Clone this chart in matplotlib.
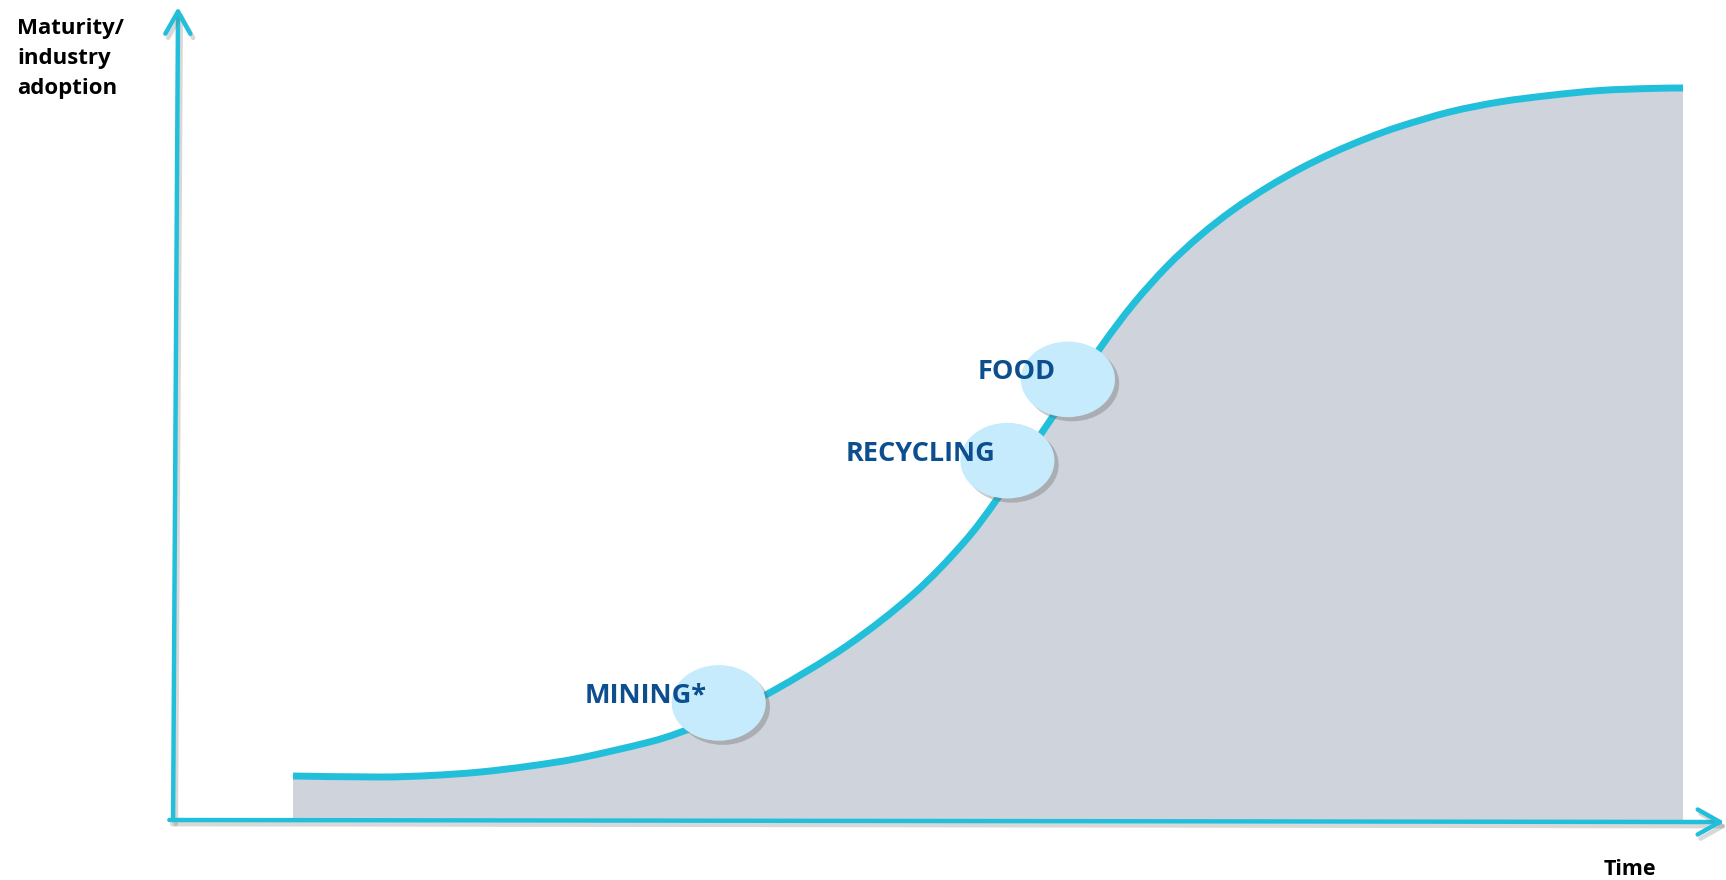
import matplotlib
matplotlib.use("Agg")
import matplotlib.pyplot as plt
import matplotlib.patheffects as pe
from matplotlib.patches import Ellipse, PathPatch
from matplotlib.path import Path

# adoption curve (time / maturity, 0-100 scale)
time = [7.67, 13.27, 16.49, 19.72, 22.94, 26.16, 30.48, 32.60, 35.50, 38.60,
        43.36, 47.62, 50.84, 53.03, 55.99, 59.66, 61.79, 63.98, 66.11, 68.23,
        70.43, 72.55, 74.68, 76.87, 79.00, 82.22, 85.44, 88.66, 91.88, 95.10, 97.23]
adoption = [5.41, 5.29, 5.47, 5.90, 6.64, 7.63, 9.52, 10.77, 12.99, 15.88,
            21.43, 27.76, 34.03, 39.47, 47.85, 58.01, 63.41, 68.09, 71.87, 75.03,
            77.79, 80.10, 82.09, 83.85, 85.31, 87.10, 88.33, 89.13, 89.73, 89.98, 90.04]

# sectors placed on the curve
sectors = ["MINING*", "RECYCLING", "FOOD"]
sector_time = [35.1, 53.7, 57.6]
sector_adoption = [14.4, 44.2, 54.2]

cyan = "#21BFDA"
grey = "#CFD3DB"
bubble = "#C5EBFC"
navy = "#0D4E8F"
font = ["Open Sans", "DejaVu Sans"]


def smooth_path(xs, ys):
    # catmull-rom through the read points, as cubic bezier segments
    pts = list(zip(xs, ys))
    verts = [pts[0]]
    codes = [Path.MOVETO]
    n = len(pts)
    for i in range(n - 1):
        p0 = pts[max(i - 1, 0)]
        p1 = pts[i]
        p2 = pts[i + 1]
        p3 = pts[min(i + 2, n - 1)]
        c1 = (p1[0] + (p2[0] - p0[0]) / 6, p1[1] + (p2[1] - p0[1]) / 6)
        c2 = (p2[0] - (p3[0] - p1[0]) / 6, p2[1] - (p3[1] - p1[1]) / 6)
        verts += [c1, c2, p2]
        codes += [Path.CURVE4] * 3
    return verts, codes


fig = plt.figure(figsize=(17.26, 8.80), dpi=100)
ax = fig.add_axes([174 / 1726, 60 / 880, 1552 / 1726, 813 / 880])
ax.set_xlim(0, 100)
ax.set_ylim(0, 100)
ax.axis("off")

verts, codes = smooth_path(time, adoption)

# shaded area under the curve
fill_verts = verts + [(time[-1], 0), (time[0], 0), verts[0]]
fill_codes = codes + [Path.LINETO, Path.LINETO, Path.CLOSEPOLY]
ax.add_patch(PathPatch(Path(fill_verts, fill_codes), facecolor=grey, lw=0, zorder=1))

# the curve
ax.add_patch(PathPatch(Path(verts, codes), facecolor="none", edgecolor=cyan, lw=5,
                       capstyle="butt", joinstyle="round", zorder=2))

# axes with arrows
shadow = [pe.SimpleLineShadow(offset=(2, -3), shadow_color="grey", alpha=0.3),
          pe.Normal()]
arrow = dict(arrowstyle="->,head_length=0.8,head_width=0.45", mutation_scale=20,
             lw=3.2, color=cyan, shrinkA=0, shrinkB=0, path_effects=shadow,
             capstyle="round")
ax.annotate("", xy=(0.26, 100), xytext=(-0.06, 0), arrowprops=arrow,
            annotation_clip=False, zorder=3)
ax.annotate("", xy=(99.9, -0.25), xytext=(-0.3, 0), arrowprops=arrow,
            annotation_clip=False, zorder=3)

# bubbles and labels
for name, t, a in zip(sectors, sector_time, sector_adoption):
    e = Ellipse((t, a), 6.06, 9.3, facecolor=bubble, edgecolor="none", zorder=4)
    e.set_path_effects([pe.SimplePatchShadow(offset=(3, -3), shadow_rgbFace="#666666",
                                             alpha=0.35), pe.Normal()])
    ax.add_patch(e)
    ax.annotate(name, xy=(t, a), xytext=(-9, 0), textcoords="offset points",
                ha="right", va="baseline", fontsize=19.5, fontweight="bold",
                color=navy, family=font, zorder=5)

fig.text(17 / 1726, 1 - 18 / 880, "Maturity/\nindustry\nadoption", ha="left", va="top",
         fontsize=16, fontweight="bold", color="black", family=font, linespacing=1.55)
fig.text(1630 / 1726, 1 - 875 / 880, "Time", ha="center", va="baseline",
         fontsize=15.5, fontweight="bold", color="black", family=font)

fig.savefig("out.png", dpi=100)
